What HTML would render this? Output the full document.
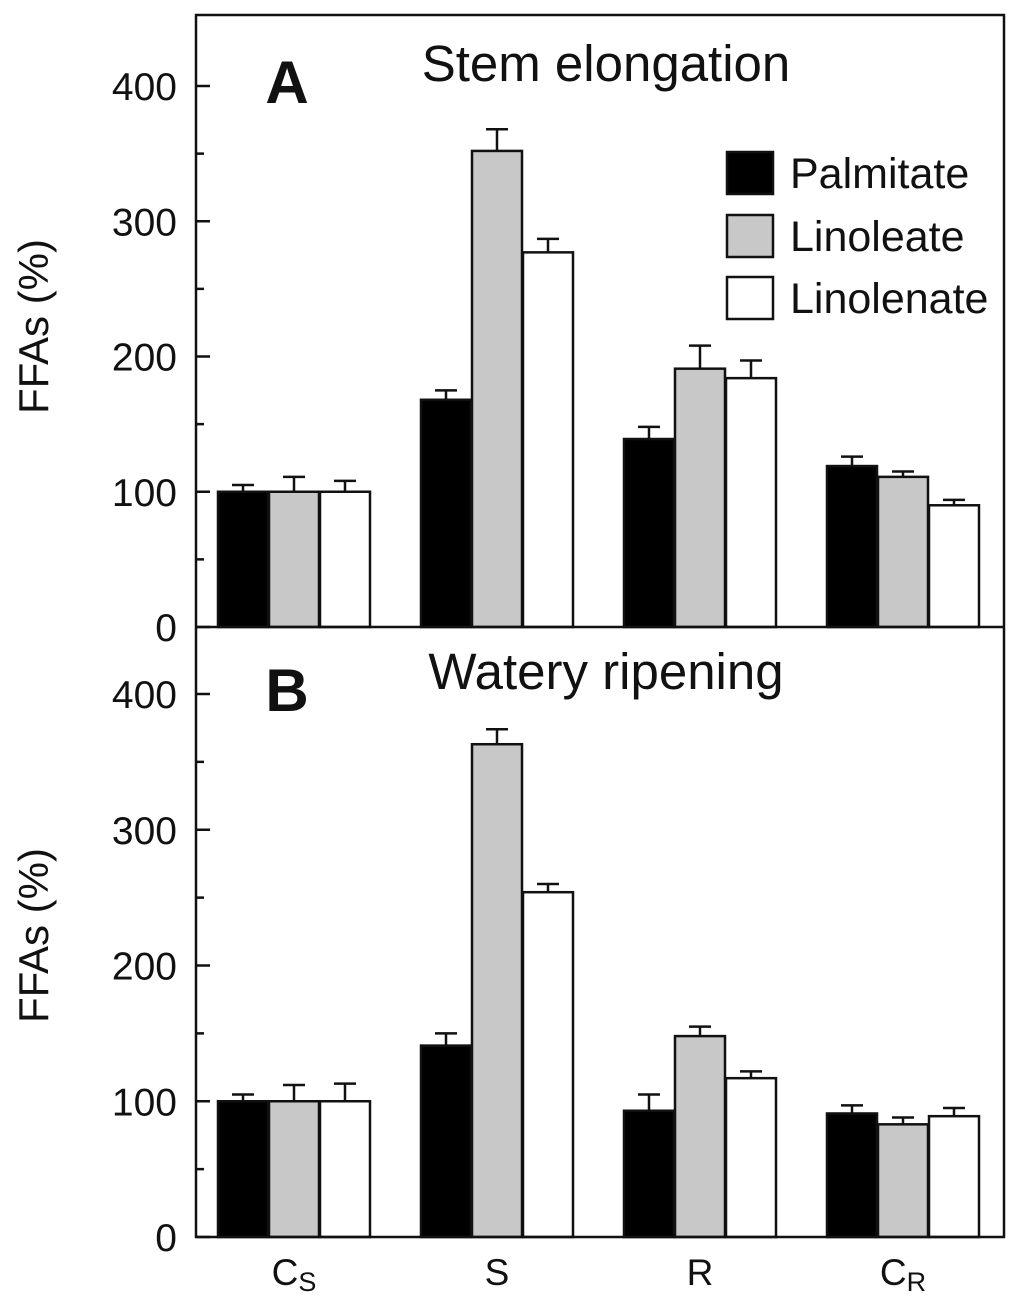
<!DOCTYPE html>
<html><head><meta charset="utf-8"><style>
body{margin:0;background:#fff;}
svg text{font-family:"Liberation Sans",Arial,sans-serif;fill:#111;}
</style></head><body>
<svg id="chart" width="1024" height="1307" viewBox="0 0 1024 1307" xmlns="http://www.w3.org/2000/svg">
<g id="root"></g>
</svg>
<script>
const categories=["Cs","S","R","CR"];
const seriesNames=["Palmitate","Linoleate","Linolenate"];
const fills=["#000","#c8c8c8","#fff"];
const aVals=[[100,168,139,119],[100,352,191,111],[100,277,184,90]];
const aErr=[[5,7,9,7],[11,16,17,4],[8,10,13,4]];
const bVals=[[100,141,93,91],[100,363,148,83],[100,254,117,89]];
const bErr=[[5,9,12,6],[12,11,7,5],[13,6,5,6]];
const ticks=[0,100,200,300,400];
const NS="http://www.w3.org/2000/svg";
const root=document.getElementById('root');
function mk(t,a,p){const e=document.createElementNS(NS,t);for(const k in a)e.setAttribute(k,a[k]);(p||root).appendChild(e);return e;}
const X0=196,X1=1004;
function xBar(ci,si){return 218+ci*203+si*51;}
function panel(vals,errs,y0,yTop,label,title,name){
  const g=mk('g',{});
  
  
  const sc=(y0-yTop)/400;
  const y=v=>y0-v*sc;
  ticks.forEach(t=>{
    const tx=mk('text',{x:177,y:y(t)+14,'font-size':39,'text-anchor':'end'},g);tx.textContent=t;
    
    
    mk('line',{x1:X0,x2:X0+14,y1:y(t),y2:y(t),stroke:'#111','stroke-width':2.5},g);
    if(t<400)mk('line',{x1:X0,x2:X0+8,y1:y(t+50),y2:y(t+50),stroke:'#111','stroke-width':2.5},g);
  });
  vals.forEach((sv,si)=>sv.forEach((v,ci)=>{
    const x=xBar(ci,si);
    const top=y(v),et=y(v+errs[si][ci]);
    mk('line',{x1:x+25,x2:x+25,y1:top,y2:et,stroke:'#111','stroke-width':2.5},g);
    mk('line',{x1:x+14,x2:x+36,y1:et,y2:et,stroke:'#111','stroke-width':2.5},g);
    const r=mk('rect',{x:x,y:top,width:50,height:y0-top,fill:fills[si],stroke:'#111','stroke-width':2.5},g);
    
    
  }));
  const yt=mk('text',{x:0,y:0,'font-size':42,'text-anchor':'middle',transform:`translate(48,${(y0+yTop)/2-30}) rotate(-90)`},g);
  yt.textContent='FFAs (%)';
  
  
  const L=mk('text',{x:287,y:yTop+17,'font-size':60,'font-weight':'bold','text-anchor':'middle'},g);L.textContent=label;
  
  
  const T=mk('text',{x:606,y:yTop-5,'font-size':51,'text-anchor':'middle'},g);T.textContent=title;
  
  
}
panel(aVals,aErr,627,86,'A','Stem elongation','panel-a');
panel(bVals,bErr,1237,694,'B','Watery ripening','panel-b');
mk('rect',{x:X0,y:15,width:X1-X0,height:1222,fill:'none',stroke:'#111','stroke-width':2.5});
mk('line',{x1:X0,x2:X1,y1:627,y2:627,stroke:'#111','stroke-width':2.5});
const xl=[["C","S"],["S",""],["R",""],["C","R"]];
xl.forEach((l,ci)=>{
  const t=mk('text',{x:xBar(ci,1)+25,y:1285,'font-size':37,'text-anchor':'middle'});
  
  
  t.appendChild(document.createTextNode(l[0]));
  if(l[1]){const s=mk('tspan',{'font-size':27,dy:6},t);s.textContent=l[1];}
});
const ly=[152,215,277];
seriesNames.forEach((n,i)=>{
  const g=mk('g',{});
  
  
  mk('rect',{x:727,y:ly[i],width:46,height:42,fill:fills[i],stroke:'#111','stroke-width':2.5},g);
  const t=mk('text',{x:790,y:ly[i]+36,'font-size':43},g);t.textContent=n;
});
</script>
</body></html>
